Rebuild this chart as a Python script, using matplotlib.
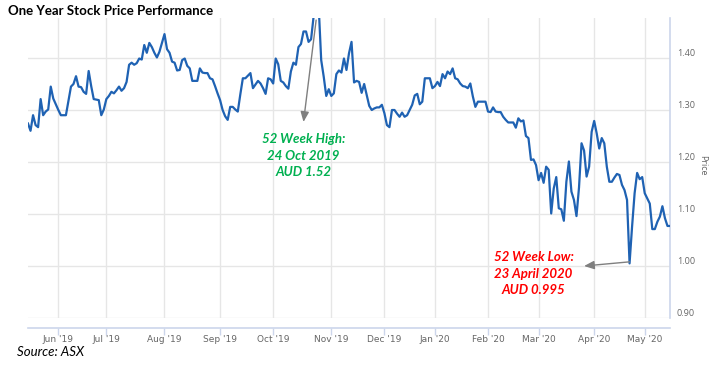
import numpy as np
import pandas as pd
import matplotlib
matplotlib.use("Agg")
import matplotlib.pyplot as plt

# ASX trading days, May 2019 - May 2020
start_date = "2019-05-16"
end_date = "2020-05-15"
asx_holidays = ["2019-06-10", "2019-12-25", "2019-12-26", "2020-01-01",
                "2020-01-27", "2020-04-10", "2020-04-13"]

# daily close (AUD)
prices = [
    1.274, 1.260, 1.290, 1.271, 1.267, 1.321, 1.290, 1.297, 1.301, 1.345,
    1.322, 1.311, 1.300, 1.290, 1.290, 1.290, 1.318, 1.345, 1.350, 1.365,
    1.345, 1.344, 1.335, 1.331, 1.375, 1.346, 1.321, 1.320, 1.319, 1.290,
    1.301, 1.321, 1.327, 1.335, 1.332, 1.338, 1.345, 1.337, 1.342, 1.354,
    1.387, 1.391, 1.387, 1.390, 1.399, 1.397, 1.425, 1.410, 1.429, 1.421,
    1.410, 1.401, 1.412, 1.429, 1.446, 1.417, 1.410, 1.393, 1.391, 1.376,
    1.377, 1.396, 1.399, 1.385, 1.380, 1.356, 1.356, 1.356, 1.380, 1.372,
    1.371, 1.371, 1.361, 1.359, 1.346, 1.332, 1.319, 1.300, 1.288, 1.281,
    1.306, 1.306, 1.301, 1.297, 1.330, 1.361, 1.361, 1.366, 1.371, 1.342,
    1.349, 1.356, 1.351, 1.342, 1.331, 1.361, 1.359, 1.351, 1.399, 1.388,
    1.356, 1.353, 1.346, 1.341, 1.374, 1.391, 1.387, 1.421, 1.427, 1.451,
    1.451, 1.431, 1.436, 1.480, 1.520, 1.500, 1.396, 1.364, 1.327, 1.340,
    1.327, 1.332, 1.369, 1.376, 1.372, 1.399, 1.377, 1.409, 1.431, 1.353,
    1.356, 1.354, 1.333, 1.350, 1.329, 1.308, 1.300, 1.303, 1.305, 1.305,
    1.310, 1.294, 1.271, 1.267, 1.300, 1.300, 1.293, 1.287, 1.295, 1.287,
    1.290, 1.300, 1.310, 1.328, 1.331, 1.311, 1.316, 1.361, 1.361, 1.361,
    1.342, 1.346, 1.354, 1.346, 1.369, 1.361, 1.374, 1.369, 1.380, 1.361,
    1.359, 1.351, 1.346, 1.345, 1.342, 1.351, 1.326, 1.306, 1.316, 1.316,
    1.316, 1.316, 1.297, 1.296, 1.305, 1.297, 1.296, 1.296, 1.287, 1.281,
    1.276, 1.276, 1.276, 1.266, 1.284, 1.278, 1.280, 1.250, 1.246, 1.204,
    1.205, 1.194, 1.165, 1.179, 1.160, 1.191, 1.185, 1.101, 1.149, 1.171,
    1.111, 1.109, 1.087, 1.162, 1.201, 1.143, 1.127, 1.096, 1.151, 1.236,
    1.222, 1.172, 1.191, 1.258, 1.279, 1.255, 1.226, 1.246, 1.236, 1.191,
    1.162, 1.162, 1.170, 1.177, 1.175, 1.156, 1.146, 1.127, 1.005, 1.076,
    1.140, 1.179, 1.167, 1.171, 1.140, 1.130, 1.120, 1.071, 1.071, 1.085,
    1.095, 1.115, 1.092, 1.077, 1.077,
]

y_ticks = [0.90, 1.00, 1.10, 1.20, 1.30, 1.40]
high_date, high_price = "2019-10-24", 1.52
low_date, low_price = "2020-04-23", 0.995

title = "One Year Stock Price Performance"
high_text = "52 Week High:\n24 Oct 2019\nAUD 1.52"
low_text = "52 Week Low:\n23 April 2020\nAUD 0.995"
source_text = "Source: ASX"

dates = pd.bdate_range(start_date, end_date, freq="C", holidays=asx_holidays)
x = np.arange(len(dates))
p = np.array(prices)
assert len(p) == len(dates), (len(p), len(dates))

# ordinal axis: tick at the first trading day of each month
month = dates.to_period("M")
first = np.where(month[1:] != month[:-1])[0] + 1
tick_labels = [d.strftime("%b '%y") for d in dates[first]]

grid_c = "#e6e6e6"
axis_c = "#ccd6eb"
label_c = "#666666"
line_c = "#1f62b3"

fig = plt.figure(figsize=(7.24, 3.65), dpi=100)
ax = fig.add_axes([28 / 724, 1 - 318 / 365, 642 / 724, 300 / 365])

ax.plot(x, p, color=line_c, lw=1.6, zorder=3, clip_on=True)
ax.set_xlim(0, len(p) - 1)
ax.set_ylim(0.90, 0.90 + 300 / 520)

ax.set_yticks(y_ticks)
ax.set_yticklabels([f"{v:.2f}" for v in y_ticks])
ax.yaxis.tick_right()
ax.tick_params(axis="y", length=0, pad=5, labelsize=6.5, labelcolor=label_c)
for lbl in ax.get_yticklabels():
    lbl.set_va("bottom")
    lbl.set_fontfamily("Open Sans")

ax.set_xticks(first)
ax.set_xticklabels(tick_labels, fontfamily="Open Sans")
ax.tick_params(axis="x", direction="out", length=5, width=1, color=axis_c,
               pad=0.5, labelsize=6.5, labelcolor=label_c)

for v in y_ticks:
    ax.axhline(v, color=grid_c, lw=1, zorder=1)
for t in first:
    ax.axvline(t, color=grid_c, lw=1, zorder=1)

for s in ["top", "left"]:
    ax.spines[s].set_visible(False)
ax.spines["right"].set_color(axis_c)
ax.spines["right"].set_linewidth(1.2)
ax.spines["bottom"].set_color(axis_c)
ax.spines["bottom"].set_linewidth(1.2)
ax.spines["bottom"].set_position(("outward", 7))

fig.text(703 / 724, 1 - 165 / 365, "Price", rotation=270, ha="center",
         va="center", fontsize=6.5, color=label_c, family="Open Sans")

# annotations
hi = dates.get_loc(pd.Timestamp(high_date))
lo = dates.get_loc(pd.Timestamp(low_date))
top = ax.get_ylim()[1]
arrow = dict(arrowstyle="-|>,head_length=0.6,head_width=0.25",
             color="#7f7f7f", lw=1, shrinkA=0, shrinkB=0)
ax.annotate("", xy=(hi - 5, 1.277), xytext=(hi, top - 0.004),
            arrowprops=arrow, zorder=4)
ax.annotate("", xy=(lo - 18, 1.000), xytext=(lo, 1.008),
            arrowprops=arrow, zorder=4)

txt = dict(ha="center", va="top", fontsize=9.5, fontweight="bold",
           fontstyle="italic", family="Lato", linespacing=1.45)
ax.text(hi - 5, 1.255, high_text, color="#00b050", **txt)
ax.text(lo - 38, 1.028, low_text, color="#ff0000", **txt)

fig.text(8 / 724, 1 - 11 / 365, title, ha="left", va="center",
         fontsize=9.5, fontweight="bold", family="Lato", color="#000000")
fig.text(17 / 724, 1 - 352 / 365, source_text, ha="left", va="center",
         fontsize=9.5, fontstyle="italic", family="Lato", color="#000000")

fig.savefig("out.png", dpi=100)
